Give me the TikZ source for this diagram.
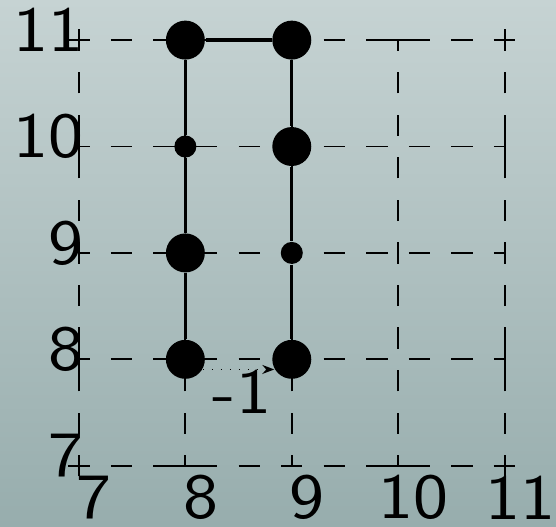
\documentclass[tikz,border=0pt]{standalone}
\usepackage{tikz}
\usetikzlibrary{arrows.meta, positioning, calc}

\definecolor{bgtop}{HTML}{C6D3D3}
\definecolor{bgbot}{HTML}{97ADAD}
\newcommand{\widelab}[1]{\scalebox{1.15}[1]{#1}}

\begin{document}
\begin{tikzpicture}[
  grid/.style={line width=0.5pt, dash pattern=on 0.2cm off 0.2cm,
               dash phase=0.1cm},
  frametick/.style={line width=0.5pt, dash pattern=on 0.2cm off 0.8cm},
  big/.style={circle, fill=black, inner sep=0pt, minimum size=0.366cm},
  small/.style={circle, fill=black, inner sep=0pt, minimum size=0.207cm},
  lbl/.style={inner sep=0pt, font=\sffamily\fontsize{17.28}{20}\selectfont},
  wire/.style={line width=0.9pt},
  arr/.style={dotted, -{Stealth[length=3.2pt, width=2.4pt]}}
]
  % background
  \shade[top color=bgtop, bottom color=bgbot]
    (6.258,6.429) rectangle (11.483,11.377);
  \useasboundingbox (6.258,6.429) rectangle (11.483,11.377);

  % dashed grid
  \foreach \i in {7,...,11} {
    \draw[grid] (\i,7) -- (\i,11);
    \draw[grid] (7,\i) -- (11,\i);
  }
  \foreach \i in {7,11} {
    \draw[frametick] (\i,6.9) -- (\i,11.1);
    \draw[frametick] (6.9,\i) -- (11.1,\i);
  }

  % axis labels
  \foreach \i in {7,...,11} {
    \node[lbl] (x\i) at (\i+0.145,6.703) {\widelab{\i}};
    \node[lbl, anchor=east] (y\i) at (7.05,\i+0.095) {\widelab{\i}};
  }

  % points
  \node[big]   (n811) at (8,11) {};
  \node[big]   (n911) at (9,11) {};
  \node[small] (n810) at (8,10) {};
  \node[big]   (n910) at (9,10) {};
  \node[big]   (n89)  at (8,9)  {};
  \node[small] (n99)  at (9,9)  {};
  \node[big]   (n88)  at (8,8)  {};
  \node[big]   (n98)  at (9,8)  {};

  \draw[wire] (n811) -- (n911);
  \draw[wire] (n811) -- (n810) -- (n89) -- (n88);
  \draw[wire] (n911) -- (n910) -- (n99) -- (n98);

  \draw[arr] (n88.-30) -- (n98.210);
  \node[lbl] (shift) at (8.532,7.696) {\widelab{-1}};
\end{tikzpicture}
\end{document}
